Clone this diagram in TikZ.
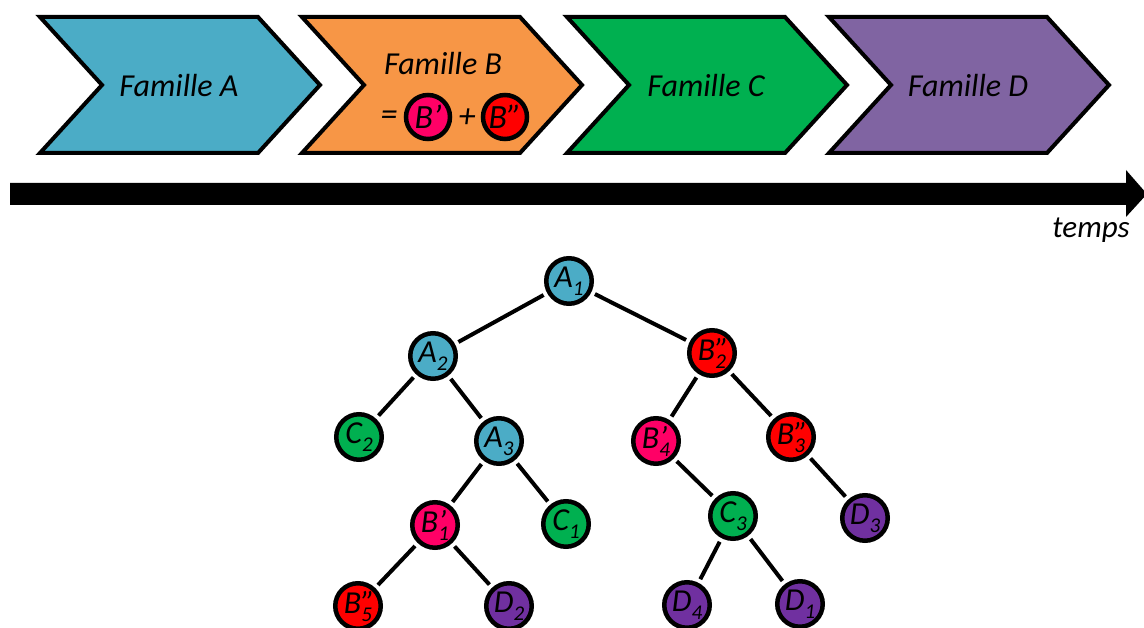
\documentclass[tikz,border=0pt]{standalone}
\usepackage{fontspec}
\setmainfont{Carlito}
\definecolor{cA}{HTML}{4BACC6}
\definecolor{cB}{HTML}{F79646}
\definecolor{cC}{HTML}{00B050}
\definecolor{cD}{HTML}{8064A2}
\definecolor{tD}{HTML}{7030A0}
\definecolor{bp}{HTML}{FF0066}
\definecolor{bpp}{HTML}{FF0000}
\newcommand\subs[1]{\raisebox{-8pt}{\fontsize{21}{21}\selectfont #1}}
\newcommand\lbl[2]{#1\subs{#2}}
\newcommand\lblp[3]{#1\rlap{#2}\subs{#3}}
\newcommand\chevron[2]{%
  \filldraw[chev, fill=#2] (#1,17) -- ++(218,0) -- ++(62,68) -- ++(-62,68) -- ++(-218,0) -- ++(62,-68) -- cycle;}
\tikzset{
  chev/.style={draw=black, line width=4pt, line join=miter},
  big/.style={font=\fontsize{32}{36}\selectfont\itshape, inner sep=0pt, anchor=base},
  tn/.style={circle, draw=black, line width=4.5pt, minimum size=45.5pt, inner sep=0pt,
             font=\fontsize{32}{34}\selectfont\itshape},
  edge/.style={line width=4pt, shorten <=4pt, shorten >=4pt},
}
\begin{document}
\begin{tikzpicture}[x=1pt,y=-1pt]
\useasboundingbox (0,0) rectangle (1144,628);
\clip (0,0) rectangle (1144,628);
% chevrons
\chevron{40}{cA}
\chevron{302}{cB}
\chevron{567}{cC}
\chevron{829}{cD}
\node[big] (fa) at (179,97) {Famille A};
\node[big] (fb) at (443,75) {Famille B};
\node[big] (fc) at (706,97) {Famille C};
\node[big] (fd) at (968,97) {Famille D};
\node[font=\fontsize{34}{36}\selectfont\itshape, inner sep=0pt] (eq) at (389,118) {=};
\node[tn, minimum size=44pt, font=\fontsize{34}{36}\selectfont\itshape, fill=bp] (cbp) at (428,117) {B’};
\node[font=\fontsize{34}{36}\selectfont\itshape, inner sep=0pt] (pl) at (467,118) {+};
\node[tn, minimum size=44pt, font=\fontsize{34}{36}\selectfont\itshape, fill=bpp] (cbpp) at (505,117) {B”};
% time arrow
\coordinate (ts) at (10,194);
\coordinate (te) at (1147,194);
\fill (ts) ++(0,-11) -- (1126,183) -- (1126,170) -- (te) -- (1126,217) -- (1126,205) -- (10,205) -- cycle;
\node[big, font=\fontsize{31}{34}\selectfont\itshape] (temps) at (1091,238) {temps};
% tree
\node[tn, fill=cA] (A1) at (569,281) {\lbl{A}{1}};
\node[tn, fill=cA] (A2) at (433,356) {\lbl{A}{2}};
\node[tn, fill=bpp] (B2) at (712,353) {\lblp{B}{”}{2}};
\node[tn, fill=cC] (C2) at (359,437) {\lbl{C}{2}};
\node[tn, fill=cA] (A3) at (499,441) {\lbl{A}{3}};
\node[tn, fill=bp] (B4) at (656,441) {\lblp{B}{’}{4}};
\node[tn, fill=bpp] (B3) at (791,437) {\lblp{B}{”}{3}};
\node[tn, fill=bp] (B1) at (435,525) {\lblp{B}{’}{1}};
\node[tn, fill=cC] (C1) at (566,524) {\lbl{C}{1}};
\node[tn, fill=cC] (C3) at (733,516) {\lbl{C}{3}};
\node[tn, fill=tD] (D3) at (865,518) {\lbl{D}{3}};
\node[tn, fill=bpp] (B5) at (358,606) {\lblp{B}{”}{5}};
\node[tn, fill=tD] (D2) at (509,606) {\lbl{D}{2}};
\node[tn, fill=tD] (D4) at (687,605) {\lbl{D}{4}};
\node[tn, fill=tD] (D1) at (800,604) {\lbl{D}{1}};
\foreach \a/\b in {A1/A2,A1/B2,A2/C2,A2/A3,A3/B1,A3/C1,B1/B5,B1/D2,B2/B4,B2/B3,B4/C3,C3/D4,C3/D1,B3/D3}
  \draw[edge] (\a) -- (\b);
\end{tikzpicture}
\end{document}
